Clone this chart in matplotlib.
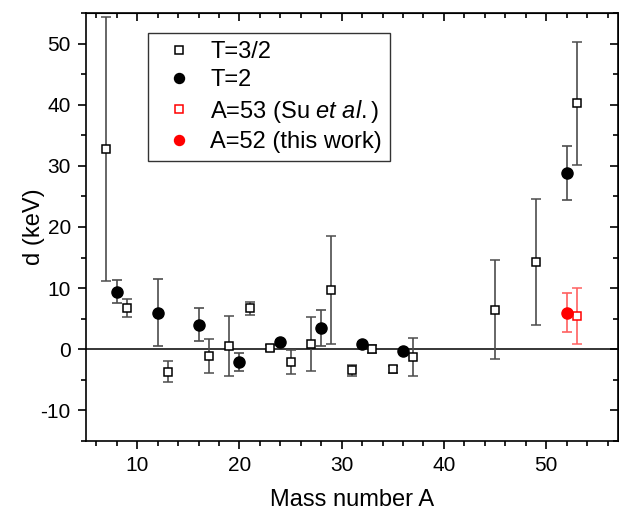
import matplotlib
matplotlib.use("Agg")
import matplotlib.pyplot as plt
from matplotlib.ticker import MultipleLocator

plt.rcParams['font.family'] = ['Liberation Sans', 'DejaVu Sans']
plt.rcParams['mathtext.fontset'] = 'custom'
plt.rcParams['mathtext.rm'] = 'Liberation Sans'
plt.rcParams['mathtext.it'] = 'Liberation Sans:italic'
plt.rcParams['axes.unicode_minus'] = False

# T=3/2 (open squares)
a_t32 = [7, 9, 13, 17, 19, 21, 23, 25, 27, 29, 31, 33, 35, 37, 45, 49, 53]
d_t32 = [32.7, 6.7, -3.7, -1.1, 0.55, 6.7, 0.15, -2.1, 0.9, 9.7, -3.4, 0.05, -3.3, -1.2, 6.5, 14.2, 40.2]
e_t32 = [21.6, 1.5, 1.7, 2.7, 4.9, 1.1, 0.5, 1.9, 4.4, 8.8, 0.9, 0.6, 0.6, 3.1, 8.1, 10.3, 10.0]

# T=2 (filled circles)
a_t2 = [8, 12, 16, 20, 24, 28, 32, 36, 52]
d_t2 = [9.4, 6.0, 4.0, -2.1, 1.25, 3.5, 0.9, -0.3, 28.8]
e_t2 = [1.9, 5.5, 2.7, 1.5, 0.3, 3.0, 0.3, 0.3, 4.4]

# A=53 (Su et al.)
a_su = [53]
d_su = [5.4]
e_su = [4.6]

# A=52 (this work)
a_tw = [52]
d_tw = [6.0]
e_tw = [3.2]

fig = plt.figure(figsize=(6.19, 5.12), dpi=100)
ax = fig.add_axes([0.139, 0.1387, 0.859, 0.836])

ax.axhline(0, color='black', lw=1.1, zorder=1)

ekw = dict(ecolor='0.3', elinewidth=1.2, capsize=3.5, capthick=1.2, linestyle='none')
ax.errorbar(a_t32, d_t32, yerr=e_t32, marker='s', ms=6, mfc='white', mec='black',
            mew=1.1, label='T=3/2', zorder=3, **ekw)
ax.errorbar(a_t2, d_t2, yerr=e_t2, marker='o', ms=8, mfc='black', mec='black',
            label='T=2', zorder=3, **ekw)
ekw['ecolor'] = '#ff6060'
ax.errorbar(a_su, d_su, yerr=e_su, marker='s', ms=6, mfc='white', mec='red',
            mew=1.1, label='A=53 (Su $\\mathit{et\\ al.}$)', zorder=3, **ekw)
ax.errorbar(a_tw, d_tw, yerr=e_tw, marker='o', ms=8, mfc='red', mec='red',
            label='A=52 (this work)', zorder=3, **ekw)

ax.set_xlim(5, 57)
ax.set_ylim(-15, 55)
ax.xaxis.set_major_locator(MultipleLocator(10))
ax.xaxis.set_minor_locator(MultipleLocator(2))
ax.yaxis.set_major_locator(MultipleLocator(10))
ax.yaxis.set_minor_locator(MultipleLocator(5))

ax.tick_params(which='both', direction='out', top=False, right=False, labelsize=15,
               width=1.2, color='black')
ax.tick_params(which='major', length=6, pad=5)
ax.tick_params(which='minor', length=3.5)
# mirrored ticks pointing inward on top and right
secx = ax.secondary_xaxis('top')
secx.xaxis.set_major_locator(MultipleLocator(10))
secx.xaxis.set_minor_locator(MultipleLocator(2))
secx.tick_params(which='both', direction='in', labeltop=False, width=1.2)
secx.tick_params(which='major', length=6)
secx.tick_params(which='minor', length=3.5)
secy = ax.secondary_yaxis('right')
secy.yaxis.set_major_locator(MultipleLocator(10))
secy.yaxis.set_minor_locator(MultipleLocator(5))
secy.tick_params(which='both', direction='in', labelright=False, width=1.2)
secy.tick_params(which='major', length=6)
secy.tick_params(which='minor', length=3.5)

for s in ax.spines.values():
    s.set_linewidth(1.2)

ax.set_xlabel('Mass number A', fontsize=17, labelpad=10)
ax.set_ylabel('d (keV)', fontsize=17, labelpad=-3)

handles, labels = ax.get_legend_handles_labels()
handles = [h[0] for h in handles]
leg = ax.legend(handles, labels, loc='upper left', bbox_to_anchor=(0.1165, 0.953),
                borderaxespad=0, fontsize=17, frameon=True, fancybox=False,
                edgecolor='black', handletextpad=0.3, labelspacing=0.27,
                borderpad=0.33, handlelength=2.0, markerscale=0.9)
leg.get_frame().set_linewidth(1.0)

fig.savefig('out.png', dpi=100)
